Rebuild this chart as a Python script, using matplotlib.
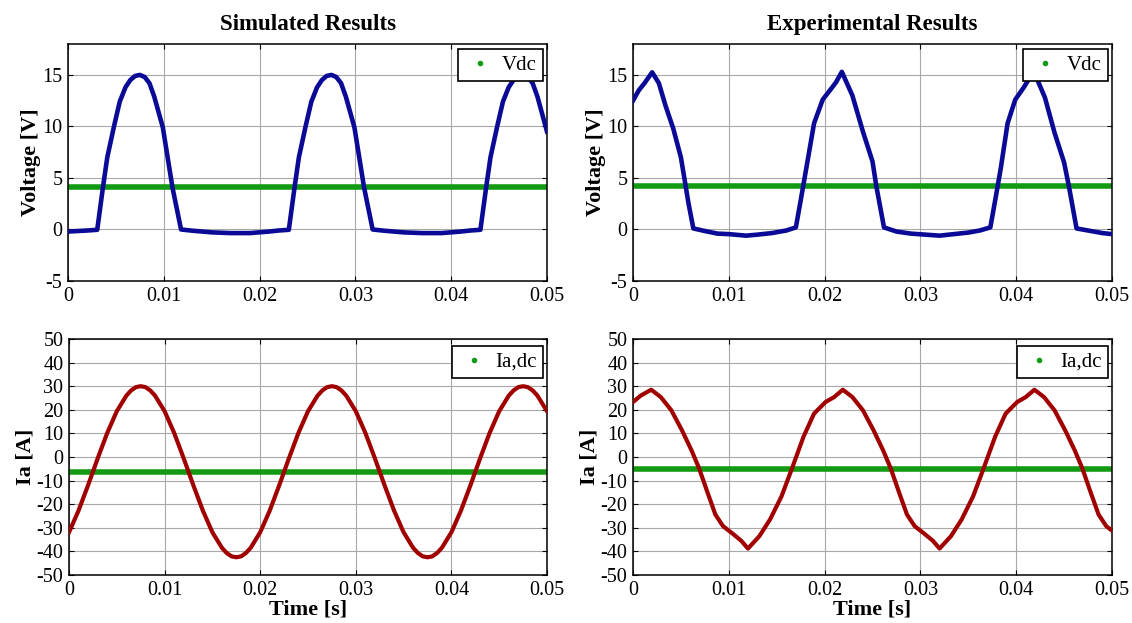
import matplotlib
matplotlib.use('Agg')
import matplotlib.pyplot as plt
from matplotlib.lines import Line2D

plt.rcParams['font.family'] = ['Liberation Serif', 'DejaVu Serif']
plt.rcParams['axes.unicode_minus'] = False

# ---- data ----
t_range = [0, 0.05]

# simulated dc-link voltage
t_v_sim = [0, 0.001, 0.002, 0.00305, 0.00365, 0.0041, 0.0048, 0.0054, 0.006, 0.0065, 0.007, 0.0075,
           0.008, 0.0085, 0.009, 0.0099, 0.0109, 0.0118, 0.013, 0.015, 0.017, 0.019, 0.021, 0.022,
           0.02305, 0.02365, 0.0241, 0.0248, 0.0254, 0.026, 0.0265, 0.027, 0.0275,
           0.028, 0.0285, 0.029, 0.0299, 0.0309, 0.0318, 0.033, 0.035, 0.037, 0.039, 0.041, 0.042,
           0.04305, 0.04365, 0.0441, 0.0448, 0.0454, 0.046, 0.0465, 0.047, 0.0475,
           0.048, 0.0485, 0.049, 0.05]
v_sim = [-0.2, -0.15, -0.1, -0.03, 4.1, 7.0, 10.0, 12.4, 13.8, 14.5, 14.9, 15.0,
         14.8, 14.2, 12.9, 9.9, 4.1, 0.0, -0.12, -0.28, -0.35, -0.35, -0.2, -0.1,
         -0.03, 4.1, 7.0, 10.0, 12.4, 13.8, 14.5, 14.9, 15.0,
         14.8, 14.2, 12.9, 9.9, 4.1, 0.0, -0.12, -0.28, -0.35, -0.35, -0.2, -0.1,
         -0.03, 4.1, 7.0, 10.0, 12.4, 13.8, 14.5, 14.9, 15.0,
         14.8, 14.2, 12.9, 9.5]
vdc_sim = 4.1

# experimental dc-link voltage
t_v_exp = [0, 0.0006, 0.0012, 0.002, 0.0027, 0.0034, 0.0042, 0.005, 0.0055, 0.0058, 0.0063,
           0.0075, 0.0088, 0.01, 0.0118, 0.013, 0.0145, 0.016, 0.017,
           0.0175, 0.0181, 0.0189, 0.0198, 0.0208, 0.0212, 0.0218,
           0.0229, 0.024, 0.025, 0.0254, 0.0262, 0.0275, 0.029, 0.0305, 0.032, 0.0335,
           0.035, 0.0362, 0.0373, 0.0378, 0.0384, 0.0391, 0.0399, 0.0408, 0.0412,
           0.0419, 0.043, 0.044, 0.045, 0.0455, 0.0463, 0.0475, 0.049, 0.05]
v_exp = [12.5, 13.5, 14.2, 15.25, 14.2, 12.0, 9.8, 7.0, 4.2, 2.5, 0.1,
         -0.15, -0.4, -0.45, -0.6, -0.5, -0.35, -0.1, 0.2,
         2.8, 6.0, 10.3, 12.6, 13.8, 14.3, 15.3,
         13.0, 9.5, 6.6, 4.2, 0.2, -0.2, -0.4, -0.5, -0.6, -0.45,
         -0.3, -0.1, 0.2, 2.8, 6.0, 10.3, 12.6, 13.8, 14.4,
         15.2, 12.8, 9.4, 6.5, 4.2, 0.1, -0.1, -0.35, -0.45]
vdc_exp = 4.2

# simulated phase current
t_i_sim = [0, 0.001, 0.002, 0.003, 0.004, 0.005, 0.006, 0.0065, 0.007, 0.0075, 0.008, 0.0085, 0.009,
           0.010, 0.011, 0.012, 0.013, 0.014, 0.015, 0.016, 0.0165, 0.017, 0.0175, 0.018, 0.0185, 0.019,
           0.020, 0.021, 0.022, 0.023, 0.024, 0.025, 0.026, 0.0265, 0.027, 0.0275, 0.028, 0.0285, 0.029,
           0.030, 0.031, 0.032, 0.033, 0.034, 0.035, 0.036, 0.0365, 0.037, 0.0375, 0.038, 0.0385, 0.039,
           0.040, 0.041, 0.042, 0.043, 0.044, 0.045, 0.046, 0.0465, 0.047, 0.0475, 0.048, 0.0485, 0.049,
           0.050]
i_sim = [-31.9, -22.7, -11.9, -0.6, 10.2, 19.4, 26.0, 28.2, 29.6, 30.0, 29.6, 28.2, 26.0,
         19.4, 10.2, -0.6, -11.9, -22.7, -31.9, -38.5, -40.7, -42.1, -42.5, -42.1, -40.7, -38.5,
         -31.9, -22.7, -11.9, -0.6, 10.2, 19.4, 26.0, 28.2, 29.6, 30.0, 29.6, 28.2, 26.0,
         19.4, 10.2, -0.6, -11.9, -22.7, -31.9, -38.5, -40.7, -42.1, -42.5, -42.1, -40.7, -38.5,
         -31.9, -22.7, -11.9, -0.6, 10.2, 19.4, 26.0, 28.2, 29.6, 30.0, 29.6, 28.2, 26.0,
         19.4]
idc_sim = -6.5

# experimental phase current
t_i_exp = [0, 0.0008, 0.0019, 0.0029, 0.004, 0.0051, 0.0061, 0.0069, 0.0078, 0.0086, 0.0094,
           0.0105, 0.0113, 0.012, 0.0132, 0.0143, 0.0155, 0.0166, 0.0178, 0.0189, 0.0201,
           0.021, 0.0219, 0.0229, 0.024, 0.0251, 0.0261, 0.0269, 0.0278, 0.0286, 0.0294,
           0.0305, 0.0313, 0.032, 0.0332, 0.0343, 0.0355, 0.0366, 0.0378, 0.0389, 0.0401,
           0.041, 0.0419, 0.0429, 0.044, 0.0451, 0.0461, 0.0469, 0.0478, 0.0486, 0.0494, 0.05]
i_exp = [23.3, 26.0, 28.5, 25.4, 19.8, 11.4, 2.9, -4.8, -15.3, -24.4, -29.3,
         -32.8, -35.5, -38.8, -33.5, -26.5, -16.7, -4.8, 8.6, 18.4, 23.3,
         25.4, 28.5, 25.4, 19.8, 11.4, 2.9, -4.8, -15.3, -24.4, -29.3,
         -32.8, -35.5, -38.8, -33.5, -26.5, -16.7, -4.8, 8.6, 18.4, 23.3,
         25.4, 28.5, 25.4, 19.8, 11.4, 2.9, -4.8, -15.3, -24.4, -29.3, -31.2]
idc_exp = -5.0

x_ticks = [0, 0.01, 0.02, 0.03, 0.04, 0.05]
x_labels = ['0', '0.01', '0.02', '0.03', '0.04', '0.05']
v_ticks = [-5, 0, 5, 10, 15]
i_ticks = [-50, -40, -30, -20, -10, 0, 10, 20, 30, 40, 50]

BLUE = '#0a0a96'
RED = '#a00000'
GREEN = '#129a12'

W, H = 1132, 623
fig = plt.figure(figsize=(W / 100, H / 100), dpi=100)


def px_axes(x0, y0, x1, y1):
    return fig.add_axes([x0 / W, 1 - y1 / H, (x1 - x0) / W, (y1 - y0) / H])


def style(ax, yticks, ylim):
    ax.set_xlim(t_range)
    ax.set_ylim(ylim)
    ax.set_xticks(x_ticks)
    ax.set_xticklabels(x_labels)
    ax.set_yticks(yticks)
    ax.grid(True, color='#a8a8a8', lw=0.8)
    ax.set_axisbelow(True)
    ax.tick_params(direction='in', top=True, right=True, length=3.5, width=0.8,
                   labelsize=14.5, pad=4)
    for s in ax.spines.values():
        s.set_linewidth(1.1)


def add_legend(ax, label, top):
    h = Line2D([], [], ls='none', marker='.', color=GREEN, markersize=6)
    leg = ax.legend([h], [label], loc='upper right', bbox_to_anchor=(0.992, top),
                    borderaxespad=0, fontsize=15, fancybox=False, framealpha=1,
                    edgecolor='black', handlelength=1.5, handletextpad=0.3,
                    borderpad=0.3)
    leg.get_frame().set_linewidth(1.2)


ax1 = px_axes(68, 44, 547, 281)
ax2 = px_axes(633, 44, 1112, 281)
ax3 = px_axes(69, 339, 547, 575)
ax4 = px_axes(633, 339, 1112, 575)

ax1.plot(t_v_sim, v_sim, color=BLUE, lw=3.3, zorder=3, solid_joinstyle='round')
ax1.plot(t_range, [vdc_sim, vdc_sim], color=GREEN, lw=4, zorder=2)
ax2.plot(t_v_exp, v_exp, color=BLUE, lw=3.3, zorder=3, solid_joinstyle='round')
ax2.plot(t_range, [vdc_exp, vdc_exp], color=GREEN, lw=4, zorder=2)
ax3.plot(t_i_sim, i_sim, color=RED, lw=3.0, zorder=3, solid_joinstyle='round')
ax3.plot(t_range, [idc_sim, idc_sim], color=GREEN, lw=4, zorder=2)
ax4.plot(t_i_exp, i_exp, color=RED, lw=3.0, zorder=3, solid_joinstyle='round')
ax4.plot(t_range, [idc_exp, idc_exp], color=GREEN, lw=4, zorder=2)

for ax in (ax1, ax2):
    style(ax, v_ticks, (-5, 18))
    ax.set_ylabel('Voltage [V]', fontsize=16, fontweight='bold', labelpad=1)
    add_legend(ax, 'Vdc', 0.979)
for ax in (ax3, ax4):
    style(ax, i_ticks, (-50, 50))
    ax.set_ylabel('Ia [A]', fontsize=16, fontweight='bold', labelpad=1)
    ax.set_xlabel('Time [s]', fontsize=16, fontweight='bold', labelpad=0)
    add_legend(ax, 'Ia,dc', 0.970)

ax1.set_title('Simulated Results', fontsize=16.5, fontweight='bold', pad=10)
ax2.set_title('Experimental Results', fontsize=16.5, fontweight='bold', pad=10)

fig.savefig('out.png', dpi=100)
